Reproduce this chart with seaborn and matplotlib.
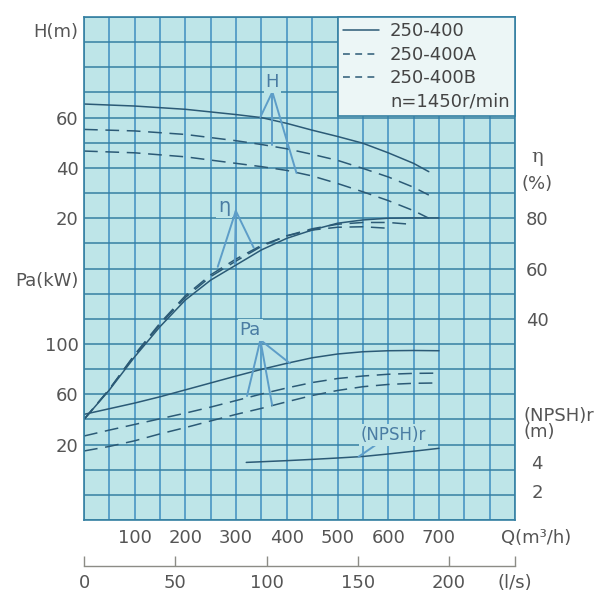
import numpy as np
import matplotlib
matplotlib.use("Agg")
import matplotlib.pyplot as plt
import seaborn as sns
from matplotlib.lines import Line2D

# Q in m3/h
q_h = [0, 100, 200, 300, 350, 400, 450, 500, 550, 600, 650, 680]
h_400 = [65.4, 64.6, 63.3, 61.2, 60.0, 57.7, 55.0, 52.5, 49.8, 46.0, 41.8, 38.5]
h_400a = [55.3, 54.7, 53.3, 50.8, 49.3, 47.6, 45.4, 43.0, 39.8, 36.4, 32.3, 29.2]
h_400b = [46.7, 46.0, 44.4, 41.8, 40.5, 39.0, 36.8, 33.8, 30.5, 27.0, 23.0, 20.0]

q_eta = [0, 50, 100, 150, 200, 250, 300, 350, 400, 450, 500, 550, 600, 650, 700]
eta_400 = [0, 11.7, 24.9, 36.9, 47.5, 55.4, 61.4, 67.4, 72.0, 75.3, 78.0, 79.3, 80.0, 80.1, 80.1]
eta_400a = [0, 12.0, 25.5, 37.8, 48.5, 56.8, 63.0, 68.8, 73.0, 75.8, 77.6, 78.3, 78.3, 77.5]
eta_400b = [0, 12.0, 25.8, 38.3, 49.2, 57.5, 63.8, 69.2, 73.0, 75.3, 76.4, 76.6, 76.0]

q_pa = [0, 50, 100, 150, 200, 250, 300, 350, 400, 450, 500, 550, 600, 650, 700]
pa_400 = [44.0, 48.5, 53.0, 58.0, 63.5, 69.0, 74.5, 79.8, 84.6, 89.0, 92.0, 93.8, 94.6, 94.8, 94.6]
pa_400a = [26.8, 31.5, 36.0, 40.5, 45.0, 49.8, 55.0, 60.2, 65.0, 69.3, 72.5, 74.5, 75.9, 76.6, 76.8]
pa_400b = [14.9, 18.5, 23.0, 28.5, 33.5, 38.8, 44.0, 48.8, 54.0, 59.0, 63.0, 66.0, 67.8, 68.7, 69.0]

q_npsh = [320, 400, 450, 500, 550, 600, 650, 700]
npsh_400 = [4.58, 4.72, 4.82, 4.93, 5.05, 5.25, 5.47, 5.70]

q_ticks = [100, 200, 300, 400, 500, 600, 700]
ls_ticks = [0, 50, 100, 150, 200]
models = ['250-400', '250-400A', '250-400B']

# callouts: label position, apex, leader ends  (Q, value)
h_note = dict(text=(371, 74.2), apex=(371.5, 70.2), ends=[(347.8, 60.2), (371.5, 49.1), (419, 38.0)])
eta_note = dict(text=(276, 84.5), apex=(299.4, 82.9), ends=[(263.8, 60.7), (297.4, 61.8), (334.6, 68.3)])
pa_note = dict(text=(328, 111), apex=(347.8, 103.2), ends=[(321.5, 58.6), (371, 51.4), (406, 84.6)])
npsh_note = dict(text=(610, 6.76), ends=[(575, 5.96), (541.5, 5.03)])

sns.set_style("white")
plt.rcParams['font.family'] = ['DejaVu Sans']

BG = '#bee5e8'
GRID_V = '#3f8ec0'
GRID_H = '#3580a2'
CURVE = '#2b5a76'
LEAD = '#5d9dc8'
TXT = '#555555'
DASH = (0, (9, 5))


# every quantity shares one 17 x 20 cell grid
def h_cell(v):
    return np.asarray(v) / 10 + 10


def eta_cell(v):
    return np.asarray(v) / 10 + 4


def pa_cell(v):
    return np.asarray(v) / 20 + 2


def npsh_cell(v):
    return np.asarray(v) / 2


fig = plt.figure(figsize=(6.08, 5.96), dpi=100)
ax = fig.add_axes([84 / 608, 76 / 596, 431 / 608, 503 / 596])
ax.set_facecolor(BG)
ax.set_xlim(0, 850)
ax.set_ylim(0, 20)
ax.set_axisbelow(True)

styles = ['-', DASH, DASH]
for yv, st in zip([h_400, h_400a, h_400b], styles):
    sns.lineplot(x=q_h, y=h_cell(yv), ax=ax, color=CURVE, lw=1.1, linestyle=st)
for yv, st in zip([eta_400, eta_400a, eta_400b], styles):
    sns.lineplot(x=q_eta[:len(yv)], y=eta_cell(yv), ax=ax, color=CURVE, lw=1.1, linestyle=st)
for yv, st in zip([pa_400, pa_400a, pa_400b], styles):
    sns.lineplot(x=q_pa, y=pa_cell(yv), ax=ax, color=CURVE, lw=1.1, linestyle=st)
sns.lineplot(x=q_npsh, y=npsh_cell(npsh_400), ax=ax, color=CURVE, lw=1.1)

# callout labels with leader lines
lab_box = dict(boxstyle='square,pad=0.1', fc=BG, ec='none')
for note, conv, txt, fs in [(h_note, h_cell, 'H', 13), (eta_note, eta_cell, 'η', 14),
                            (pa_note, pa_cell, 'Pa', 13)]:
    ax.text(note['text'][0], conv(note['text'][1]), txt, ha='center', va='center',
            fontsize=fs, color='#4a7ca3', bbox=lab_box, zorder=3)
    for e in note['ends']:
        sns.lineplot(x=[note['apex'][0], e[0]], y=conv([note['apex'][1], e[1]]), ax=ax,
                     color=LEAD, lw=1.4, sort=False, estimator=None)
ax.text(npsh_note['text'][0], npsh_cell(npsh_note['text'][1]), '(NPSH)r', ha='center',
        va='center', fontsize=12, color='#4a7ca3', bbox=lab_box, zorder=3)
e1, e2 = npsh_note['ends']
sns.lineplot(x=[e1[0], e2[0]], y=npsh_cell([e1[1], e2[1]]), ax=ax, color=LEAD, lw=1.4,
             sort=False, estimator=None)

# grid on the minor ticks
ax.xaxis.remove_overlapping_locs = False
ax.yaxis.remove_overlapping_locs = False
ax.set_xticks(np.arange(0, 851, 50), minor=True)
ax.set_yticks(np.arange(0, 21, 1), minor=True)
ax.xaxis.grid(True, which='minor', color=GRID_V, lw=1.1)
ax.yaxis.grid(True, which='minor', color=GRID_H, lw=1.1)
ax.grid(False, which='major')
for s in ax.spines.values():
    s.set_color(GRID_H)
    s.set_linewidth(1.2)

ax.set_xticks(q_ticks, [str(t) for t in q_ticks])
ax.set_yticks([3, 5, 7, 9.6, 12, 14, 16, 19.5],
              ['20', '60', '100', 'Pa(kW)', '20', '40', '60', 'H(m)'])
ax.tick_params(which='both', length=0, labelsize=13, labelcolor=TXT)
ax.tick_params(axis='x', pad=6.5)
ax.tick_params(axis='y', pad=4)
ax.set_xlabel('')
ax.set_ylabel('')

ax.annotate('Q(m³/h)', xy=((536 - 84) / 431, 0), xycoords='axes fraction',
            xytext=(0, -6.5), textcoords='offset points', ha='center', va='top',
            fontsize=13, color=TXT, annotation_clip=False)

# right hand scales
ax2 = ax.twinx()
ax2.set_ylim(0, 20)
ax2.set_yticks([1.15, 2.3, 8, 10, 12, 13.45, 14.5],
               ['2', '4', '40', '60', '80', '(%)', 'η'])
ax2.tick_params(length=0, labelsize=13, labelcolor=TXT, pad=16)
for t in ax2.get_yticklabels():
    t.set_horizontalalignment('center')
ax2.get_yticklabels()[-1].set_family(['DejaVu Serif'])
ax2.get_yticklabels()[-1].set_fontsize(14)
for s in ax2.spines.values():
    s.set_visible(False)
ax2.grid(False)
for txt, yc in [('(NPSH)r', 4.15), ('(m)', 3.5)]:
    ax2.text(1 + 8 / 431, yc, txt, transform=ax2.get_yaxis_transform(), ha='left',
             va='center', fontsize=13, color=TXT, clip_on=False)

# l/s scale under the chart
sec = ax.secondary_xaxis(-46 / 503, functions=(lambda q: q / 3.6, lambda l: l * 3.6))
sec.set_xticks(ls_ticks + [850 / 3.6], [str(t) for t in ls_ticks] + ['(l/s)'])
sec.tick_params(direction='in', length=7, width=1, color='#8c8c86', labelsize=13,
                labelcolor=TXT, pad=6)
sec.spines['bottom'].set_color('#8c8c86')
sec.spines['bottom'].set_linewidth(1)

handles = [Line2D([], [], color=CURVE, lw=1.1),
           Line2D([], [], color=CURVE, lw=1.1, linestyle=(0, (4.5, 3.5))),
           Line2D([], [], color=CURVE, lw=1.1, linestyle=(0, (4.5, 3.5))),
           Line2D([], [], color='none')]
leg = ax.legend(handles, models + ['n=1450r/min'], loc='upper left',
                bbox_to_anchor=(500, 16, 350, 4), bbox_transform=ax.transData,
                mode='expand', borderaxespad=0, frameon=True, fancybox=False,
                facecolor='#ecf6f6', edgecolor=GRID_H, framealpha=1, fontsize=13,
                labelcolor='#444444', handlelength=2.0, handletextpad=0.6,
                labelspacing=0.3, borderpad=0.3)
leg.get_frame().set_linewidth(1.2)
leg.set_zorder(5)

fig.savefig('out.png', dpi=100)
